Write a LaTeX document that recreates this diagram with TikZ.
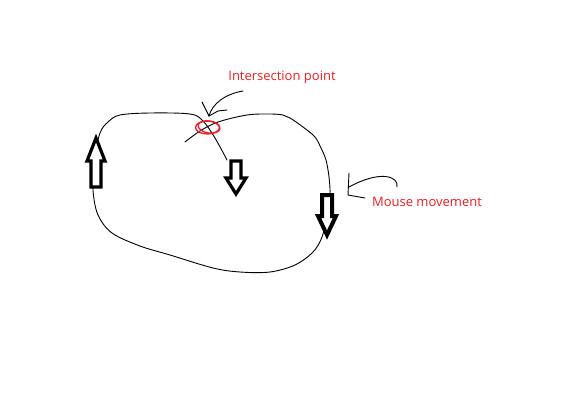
\documentclass[tikz,border=0pt]{standalone}
\usepackage{fontspec}
\setmainfont{Open Sans}
\definecolor{paintred}{RGB}{237,28,36}

\begin{document}
\begin{tikzpicture}[x=1pt, y=-1pt]
	\tikzset{
		pen/.style={draw=black, line width=0.9pt, line join=round, line cap=round},
		blockarrow/.style={draw=black, line width=3.2pt, fill=white, line join=miter},
		marker/.style={draw=paintred, line width=1.3pt},
		note/.style={text=paintred, font=\fontsize{13}{15}\selectfont, inner sep=0pt}
	}
	\useasboundingbox[fill=white] (0,0) rectangle (583,412);

	% the loop traced by the mouse
	\draw[pen] plot[smooth, tension=0.55] coordinates {
		(185,142) (200,131) (218,122) (247,115) (270,114) (283,115) (290,118)
		(303,127) (315,137) (321,148) (326,160) (329,177) (330,195) (327,215)
		(322,237) (313,252) (295,265) (270,272) (240,272) (213,268) (170,255)
		(140,246) (112,233) (98,215) (93,190) (94,160) (100,133) (108,122)
		(120,115) (150,113) (190,114) (203,121) (215,138) (227,160)};

	% direction arrows
	\draw[blockarrow] (96,138) -- (105,161) -- (101,161) -- (101,187) -- (91,187) -- (91,161) -- (87,161) -- cycle;
	\draw[blockarrow] (236,194) -- (246,178) -- (241,178) -- (241,161) -- (231,161) -- (231,178) -- (226,178) -- cycle;
	\draw[blockarrow, line width=4pt] (327,235) -- (336,216) -- (332,216) -- (332,195) -- (322,195) -- (322,216) -- (318,216) -- cycle;

	% intersection mark
	\draw[marker] (207.5,127.5) ellipse [x radius=12, y radius=6.5];
	\draw[marker] (209,127) ellipse [x radius=11, y radius=6, rotate=-10];

	% labels
	\node[note] (inter) at (282,77) {Intersection point};
	\node[note] (mouse) at (427,202) {Mouse movement};

	% pointer to the intersection
	\coordinate (interTip) at (209,116);
	\draw[pen] (243,91) .. controls (225,94) and (212,104) .. (interTip);
	\draw[pen] (202,102) -- (interTip);
	\draw[pen] (227,110) -- (218,111) -- (interTip);

	% pointer to the loop
	\coordinate (mouseTip) at (349,187);
	\draw[pen] (397,187) .. controls (399,176) and (380,170) .. (mouseTip);
	\draw[pen] (349,173) -- (348,195) -- (365,198);
\end{tikzpicture}
\end{document}
